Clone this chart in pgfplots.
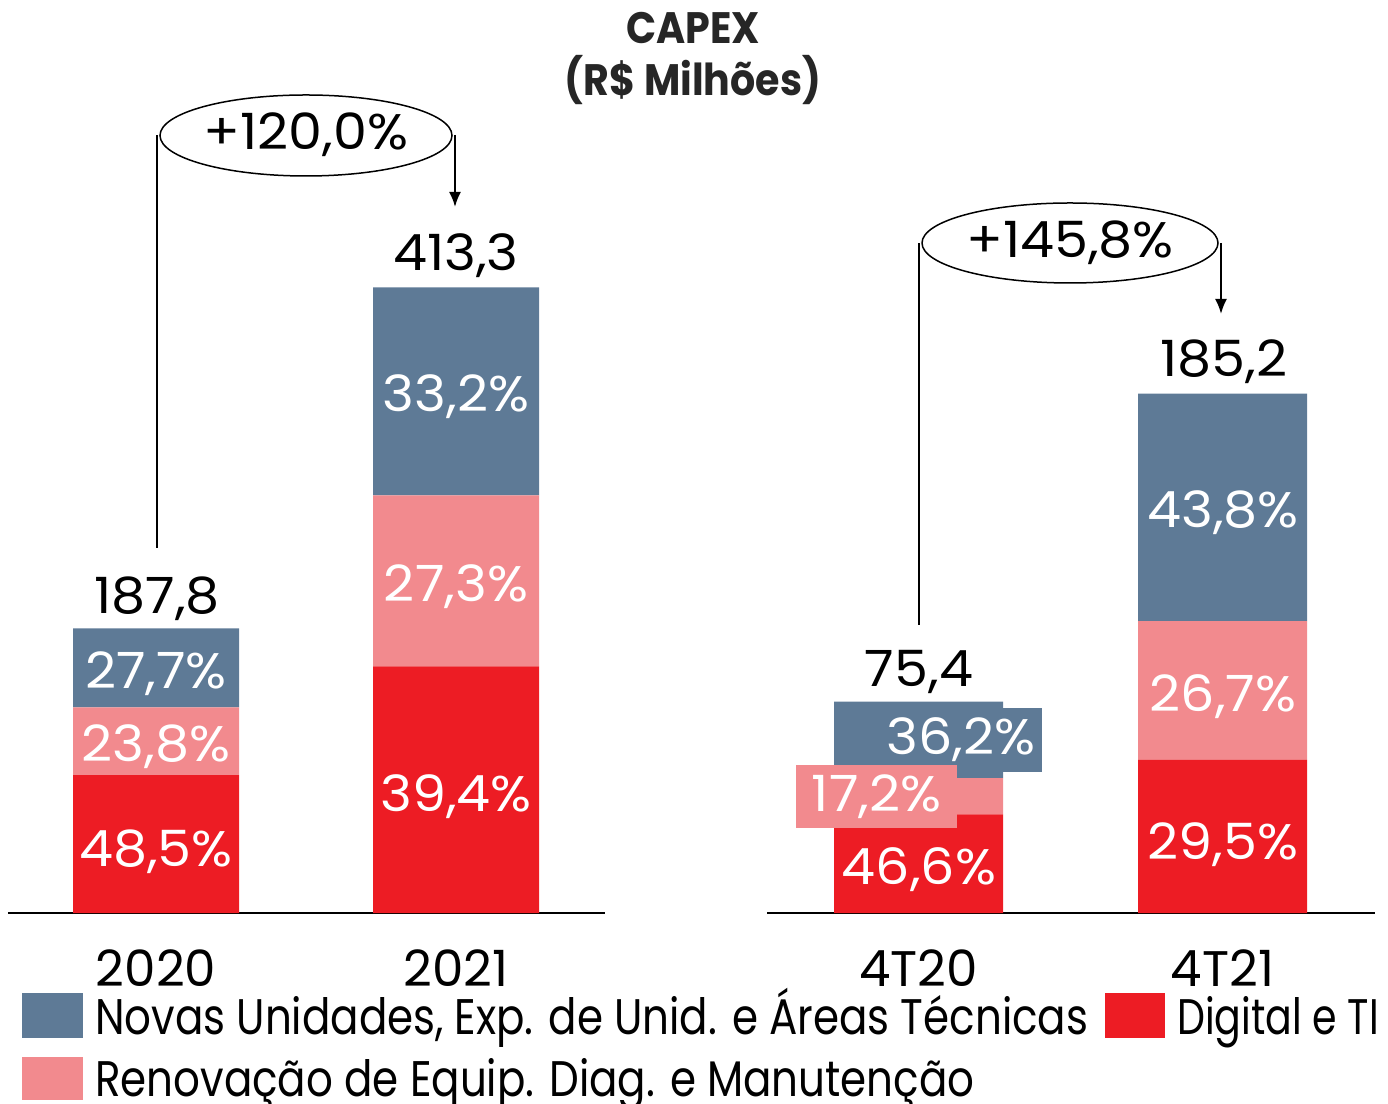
\documentclass[border=0pt]{standalone}
\usepackage{fontspec}
\setmainfont{Poppins}
\newfontfamily\legfont[FakeStretch=0.84]{Poppins}
\newfontfamily\legfontb[FakeStretch=0.79]{Poppins}
\newfontfamily\titfont[FakeStretch=0.9]{Poppins}
\newfontfamily\numfont[FakeStretch=1.08]{Poppins}
\usepackage{pgfplots}
\pgfplotsset{compat=1.18}
\usetikzlibrary{arrows.meta}
\definecolor{cblue}{RGB}{94,122,150}
\definecolor{cpink}{RGB}{242,138,142}
\definecolor{cred}{RGB}{237,28,36}
\definecolor{ctitle}{RGB}{38,38,38}
\newcommand\fbig{\fontsize{50}{60}\selectfont}
\begin{document}
\begin{tikzpicture}
\path[use as bounding box] (0pt,0pt) rectangle (1388pt,1103pt);

\begin{axis}[
  at={(8pt,190pt)}, anchor=south west, scale only axis,
  width=597pt, height=681.75pt,
  xmin=0, xmax=597, ymin=0, ymax=450,
  ybar stacked, bar width=166,
  axis x line*=bottom, axis y line=none,
  x axis line style={-, line width=1.5pt},
  ytick=\empty,
  xtick={148,448}, xticklabels={2020,2021},
  major tick length=0pt,
  xticklabel style={font=\fbig, anchor=base, yshift=-73pt},
  clip=false,
]
\addplot[fill=cred, draw=none] coordinates {(148,91.08) (448,162.84)};
\addplot[fill=cpink, draw=none] coordinates {(148,44.70) (448,112.83)};
\addplot[fill=cblue, draw=none] coordinates {(148,52.02) (448,137.22)};
\coordinate (a1) at (axis cs:149,198.0);
\coordinate (a2) at (axis cs:148,147.9);
\coordinate (a3) at (axis cs:148,99.7);
\coordinate (a4) at (axis cs:148,31.0);
\coordinate (b1) at (axis cs:448,424.4);
\coordinate (b2) at (axis cs:448,330.7);
\coordinate (b3) at (axis cs:448,205.3);
\coordinate (b4) at (axis cs:448,67.3);
\end{axis}

\begin{axis}[
  at={(767pt,190pt)}, anchor=south west, scale only axis,
  width=608pt, height=561pt,
  xmin=0, xmax=608, ymin=0, ymax=200,
  ybar stacked, bar width=169,
  axis x line*=bottom, axis y line=none,
  x axis line style={-, line width=1.5pt},
  ytick=\empty,
  xtick={151.5,455.5}, xticklabels={4T20,4T21},
  major tick length=0pt,
  xticklabel style={font=\fbig, anchor=base, yshift=-73pt},
  clip=false,
]
\addplot[fill=cred, draw=none] coordinates {(151.5,35.14) (455.5,54.63)};
\addplot[fill=cpink, draw=none] coordinates {(151.5,12.97) (455.5,49.45)};
\addplot[fill=cblue, draw=none] coordinates {(151.5,27.29) (455.5,81.12)};
\coordinate (c1) at (axis cs:152,80.9);
\coordinate (c2) at (axis cs:194,61.7);
\coordinate (c3) at (axis cs:109.5,41.5);
\coordinate (c4) at (axis cs:152,10.0);
\coordinate (d1) at (axis cs:457,191.4);
\coordinate (d2) at (axis cs:456,137.3);
\coordinate (d3) at (axis cs:456,72.0);
\coordinate (d4) at (axis cs:456,19.25);
\end{axis}

\tikzset{lab/.style={font=\numfont\fbig, anchor=base}, wlab/.style={lab, text=white}}
\node[lab] at (a1) {187,8};
\node[wlab] at (a2) {27,7\%};
\node[wlab] at (a3) {23,8\%};
\node[wlab] at (a4) {48,5\%};
\node[lab] at (b1) {413,3};
\node[wlab] at (b2) {33,2\%};
\node[wlab] at (b3) {27,3\%};
\node[wlab] at (b4) {39,4\%};
\node[lab] at (c1) {75,4};
\node[font=\numfont\fbig, fill=cblue, text=white, minimum width=162pt, minimum height=64pt, inner sep=0pt] at (c2) {36,2\%};
\node[font=\numfont\fbig, fill=cpink, text=white, minimum width=161pt, minimum height=63pt, inner sep=0pt] at (c3) {17,2\%};
\node[wlab] at (c4) {46,6\%};
\node[lab] at (d1) {185,2};
\node[wlab] at (d2) {43,8\%};
\node[wlab] at (d3) {26,7\%};
\node[wlab] at (d4) {29,5\%};

\begin{scope}[x=1pt,y=1pt]
% title
\node[font=\titfont\bfseries\fontsize{44}{52}\selectfont, text=ctitle, align=center] at (693,1045) {CAPEX\\(R\$ Milhões)};
% left annotation
\draw[line width=2pt] (157,555) -- (157,968);
\draw[line width=1.5pt] (306,967.5) ellipse [x radius=146, y radius=40.5];
\draw[line width=2pt, -{Latex[length=15pt,width=12pt]}] (455,968) -- (455,896);
\node[font=\numfont\fbig] at (306,968) {+120,0\%};
% right annotation
\draw[line width=2pt] (919,478) -- (919,860);
\draw[line width=1.5pt] (1070,860) ellipse [x radius=148, y radius=40];
\draw[line width=2pt, -{Latex[length=15pt,width=12pt]}] (1221,860) -- (1221,789);
\node[font=\numfont\fbig] at (1070,860) {+145,8\%};
% legend
\fill[cblue] (22,65) rectangle (83,110);
\node[font=\legfont\fbig, anchor=base west, inner sep=0pt] at (95,69) {Novas Unidades, Exp. de Unid. e Áreas Técnicas};
\fill[cred] (1105,65) rectangle (1165,110);
\node[font=\legfontb\fbig, anchor=base west, inner sep=0pt] at (1177,69) {Digital e TI};
\fill[cpink] (22,3) rectangle (83,46);
\node[font=\legfont\fbig, anchor=base west, inner sep=0pt] at (95,7) {Renovação de Equip. Diag. e Manutenção};
\end{scope}
\end{tikzpicture}
\end{document}
